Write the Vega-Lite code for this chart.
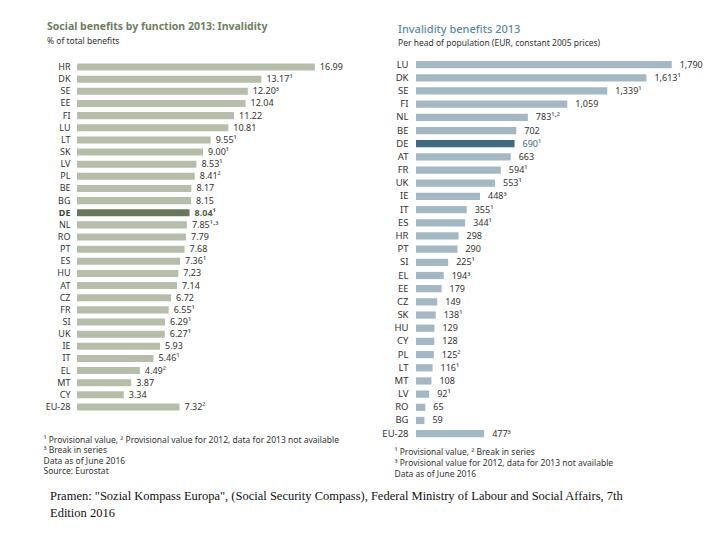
{
  "$schema": "https://vega.github.io/schema/vega-lite/v6.json",
  "background": "white",
  "padding": {"left": 43, "top": 22, "right": 5, "bottom": 5},
  "config": {
    "view": {"stroke": null},
    "font": "Noto Sans",
    "concat": {"spacing": 24}
  },
  "title": {
    "text": ["Pramen: \"Sozial Kompass Europa\", (Social Security Compass), Federal Ministry of Labour and Social Affairs, 7th", "Edition 2016"],
    "orient": "bottom",
    "anchor": "start",
    "font": "Liberation Serif",
    "fontSize": 12.5,
    "fontWeight": "normal",
    "color": "#111111",
    "lineHeight": 17,
    "offset": 12,
    "dx": 7
  },
  "hconcat": [
    {
      "width": 280,
      "height": {"step": 12.14},
      "title": {
        "text": "Social benefits by function 2013: Invalidity",
        "subtitle": "% of total benefits",
        "anchor": "start",
        "frame": "group",
        "dx": -30,
        "fontSize": 10.5,
        "fontWeight": "bold",
        "color": "#6e7f62",
        "subtitleFontSize": 8.5,
        "subtitleColor": "#333333",
        "subtitlePadding": 4,
        "offset": 16
      },
      "data": {"values": [
        {"c": "HR", "v": 16.99, "t": "16.99", "h": "n"},
        {"c": "DK", "v": 13.17, "t": "13.17¹", "h": "n"},
        {"c": "SE", "v": 12.20, "t": "12.20³", "h": "n"},
        {"c": "EE", "v": 12.04, "t": "12.04", "h": "n"},
        {"c": "FI", "v": 11.22, "t": "11.22", "h": "n"},
        {"c": "LU", "v": 10.81, "t": "10.81", "h": "n"},
        {"c": "LT", "v": 9.55, "t": "9.55¹", "h": "n"},
        {"c": "SK", "v": 9.00, "t": "9.00¹", "h": "n"},
        {"c": "LV", "v": 8.53, "t": "8.53¹", "h": "n"},
        {"c": "PL", "v": 8.41, "t": "8.41²", "h": "n"},
        {"c": "BE", "v": 8.17, "t": "8.17", "h": "n"},
        {"c": "BG", "v": 8.15, "t": "8.15", "h": "n"},
        {"c": "DE", "v": 8.04, "t": "8.04¹", "h": "y"},
        {"c": "NL", "v": 7.85, "t": "7.85¹·³", "h": "n"},
        {"c": "RO", "v": 7.79, "t": "7.79", "h": "n"},
        {"c": "PT", "v": 7.68, "t": "7.68", "h": "n"},
        {"c": "ES", "v": 7.36, "t": "7.36¹", "h": "n"},
        {"c": "HU", "v": 7.23, "t": "7.23", "h": "n"},
        {"c": "AT", "v": 7.14, "t": "7.14", "h": "n"},
        {"c": "CZ", "v": 6.72, "t": "6.72", "h": "n"},
        {"c": "FR", "v": 6.55, "t": "6.55¹", "h": "n"},
        {"c": "SI", "v": 6.29, "t": "6.29¹", "h": "n"},
        {"c": "UK", "v": 6.27, "t": "6.27¹", "h": "n"},
        {"c": "IE", "v": 5.93, "t": "5.93", "h": "n"},
        {"c": "IT", "v": 5.46, "t": "5.46¹", "h": "n"},
        {"c": "EL", "v": 4.49, "t": "4.49²", "h": "n"},
        {"c": "MT", "v": 3.87, "t": "3.87", "h": "n"},
        {"c": "CY", "v": 3.34, "t": "3.34", "h": "n"},
        {"c": "EU-28", "v": 7.32, "t": "7.32²", "h": "n"}
      ]},
      "encoding": {
        "y": {
          "field": "c", "type": "nominal", "sort": null,
          "scale": {"paddingInner": 0.42, "paddingOuter": 0.21},
          "axis": {
            "title": null, "ticks": false, "domain": false, "labelFontSize": 9, "labelPadding": 7,
            "labelColor": {"condition": {"test": "datum.value === 'DE'", "value": "#3a4a30"}, "value": "#333333"},
            "labelFontWeight": {"condition": {"test": "datum.value === 'DE'", "value": "bold"}, "value": "normal"}
          }
        },
        "x": {
          "field": "v", "type": "quantitative",
          "scale": {"domain": [0, 20], "nice": false},
          "axis": {
            "labels": false, "ticks": false, "domain": false, "grid": false,
            "title": ["¹ Provisional value, ² Provisional value for 2012, data for 2013 not available", "³ Break in series", "Data as of June 2016", "Source: Eurostat"],
            "titleAnchor": "start", "titleAlign": "left", "titleX": -34, "titleY": 22,
            "titleFontSize": 8.5, "titleFontWeight": "normal", "titleColor": "#333333", "titleLineHeight": 10.5, "titleBaseline": "top"
          }
        }
      },
      "layer": [
        {
          "mark": {"type": "bar"},
          "encoding": {
            "color": {"condition": {"test": "datum.h === 'y'", "value": "#66775a"}, "value": "#b7bdab"}
          }
        },
        {
          "transform": [{"filter": "datum.h === 'n'"}],
          "mark": {"type": "text", "align": "left", "baseline": "middle", "dx": 5, "fontSize": 9, "color": "#333333"},
          "encoding": {"text": {"field": "t"}}
        },
        {
          "transform": [{"filter": "datum.h === 'y'"}],
          "mark": {"type": "text", "align": "left", "baseline": "middle", "dx": 5, "fontSize": 9, "fontWeight": "bold", "color": "#4f6143"},
          "encoding": {"text": {"field": "t"}}
        }
      ]
    },
    {
      "width": 300,
      "height": {"step": 13.18},
      "title": {
        "text": "Invalidity benefits 2013",
        "subtitle": "Per head of population (EUR, constant 2005 prices)",
        "anchor": "start",
        "frame": "group",
        "dx": -18,
        "fontSize": 11,
        "fontWeight": 500,
        "color": "#5b8aa3",
        "subtitleFontSize": 8.5,
        "subtitleColor": "#333333",
        "subtitlePadding": 4,
        "offset": 12
      },
      "data": {"values": [
        {"c": "LU", "v": 1790, "t": "1,790", "h": "n"},
        {"c": "DK", "v": 1613, "t": "1,613¹", "h": "n"},
        {"c": "SE", "v": 1339, "t": "1,339¹", "h": "n"},
        {"c": "FI", "v": 1059, "t": "1,059", "h": "n"},
        {"c": "NL", "v": 783, "t": "783¹·²", "h": "n"},
        {"c": "BE", "v": 702, "t": "702", "h": "n"},
        {"c": "DE", "v": 690, "t": "690¹", "h": "y"},
        {"c": "AT", "v": 663, "t": "663", "h": "n"},
        {"c": "FR", "v": 594, "t": "594¹", "h": "n"},
        {"c": "UK", "v": 553, "t": "553¹", "h": "n"},
        {"c": "IE", "v": 448, "t": "448³", "h": "n"},
        {"c": "IT", "v": 355, "t": "355¹", "h": "n"},
        {"c": "ES", "v": 344, "t": "344¹", "h": "n"},
        {"c": "HR", "v": 298, "t": "298", "h": "n"},
        {"c": "PT", "v": 290, "t": "290", "h": "n"},
        {"c": "SI", "v": 225, "t": "225¹", "h": "n"},
        {"c": "EL", "v": 194, "t": "194³", "h": "n"},
        {"c": "EE", "v": 179, "t": "179", "h": "n"},
        {"c": "CZ", "v": 149, "t": "149", "h": "n"},
        {"c": "SK", "v": 138, "t": "138¹", "h": "n"},
        {"c": "HU", "v": 129, "t": "129", "h": "n"},
        {"c": "CY", "v": 128, "t": "128", "h": "n"},
        {"c": "PL", "v": 125, "t": "125²", "h": "n"},
        {"c": "LT", "v": 116, "t": "116¹", "h": "n"},
        {"c": "MT", "v": 108, "t": "108", "h": "n"},
        {"c": "LV", "v": 92, "t": "92¹", "h": "n"},
        {"c": "RO", "v": 65, "t": "65", "h": "n"},
        {"c": "BG", "v": 59, "t": "59", "h": "n"},
        {"c": "EU-28", "v": 477, "t": "477³", "h": "n"}
      ]},
      "encoding": {
        "y": {
          "field": "c", "type": "nominal", "sort": null,
          "scale": {"paddingInner": 0.45, "paddingOuter": 0.0},
          "axis": {
            "title": null, "ticks": false, "domain": false, "labelFontSize": 9.5, "labelPadding": 8,
            "labelColor": "#333333"
          }
        },
        "x": {
          "field": "v", "type": "quantitative",
          "scale": {"domain": [0, 2100], "nice": false},
          "axis": {
            "labels": false, "ticks": false, "domain": false, "grid": false,
            "title": ["¹ Provisional value, ² Break in series", "³ Provisional value for 2012, data for 2013 not available", "Data as of June 2016"],
            "titleAnchor": "start", "titleAlign": "left", "titleX": -22, "titleY": 10,
            "titleFontSize": 8.5, "titleFontWeight": "normal", "titleColor": "#333333", "titleLineHeight": 11, "titleBaseline": "top"
          }
        }
      },
      "layer": [
        {
          "mark": {"type": "bar"},
          "encoding": {
            "color": {"condition": {"test": "datum.h === 'y'", "value": "#3d6a80"}, "value": "#a3b8c2"}
          }
        },
        {
          "mark": {"type": "text", "align": "left", "baseline": "middle", "dx": 8, "fontSize": 9},
          "encoding": {
            "text": {"field": "t"},
            "color": {"condition": {"test": "datum.h === 'y'", "value": "#3d6a80"}, "value": "#333333"}
          }
        }
      ]
    }
  ]
}
